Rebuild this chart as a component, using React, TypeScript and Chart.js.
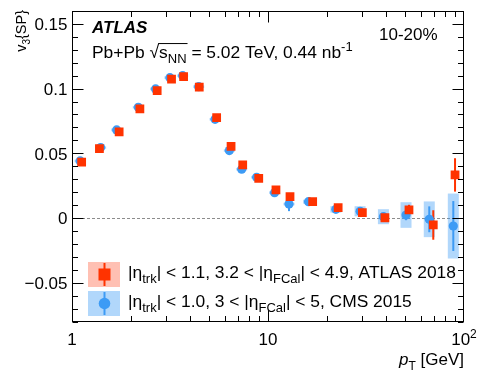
import React, { useEffect, useRef } from 'react';
import { Chart, registerables } from 'chart.js';

Chart.register(...registerables);

// ---- data ----
const atlasPt = [1.12, 1.38, 1.74, 2.22, 2.72, 3.22, 3.71, 4.46, 5.47, 6.48, 7.43, 8.97, 10.98, 12.95, 16.9, 22.8, 30.3, 39.5, 52.4, 69.7, 90.0];
const atlasV3 = [0.0431, 0.0536, 0.0665, 0.0843, 0.0984, 0.1073, 0.1093, 0.1011, 0.0776, 0.0554, 0.041, 0.0307, 0.0217, 0.0165, 0.0126, 0.0081, 0.0041, 0.0002, 0.0062, -0.0054, 0.0333];
const atlasStat = [0.0002, 0.0002, 0.0002, 0.0002, 0.0002, 0.0003, 0.0003, 0.0003, 0.0004, 0.0005, 0.0006, 0.0008, 0.001, 0.0012, 0.0015, 0.0018, 0.0022, 0.0028, 0.004, 0.0114, 0.0129];

const cmsPt = [1.1, 1.4, 1.69, 2.18, 2.67, 3.16, 3.67, 4.43, 5.37, 6.35, 7.34, 8.75, 10.8, 12.8, 16.1, 22.2, 29.5, 38.8, 50.6, 66.5, 88.2];
const cmsV3 = [0.0441, 0.0544, 0.0681, 0.0856, 0.0998, 0.1085, 0.11, 0.1015, 0.0763, 0.0521, 0.0377, 0.0315, 0.0196, 0.0108, 0.0126, 0.0067, 0.0052, 0.001, 0.0023, -0.001, -0.0062];
const cmsStat = [0.0003, 0.0003, 0.0003, 0.0003, 0.0003, 0.0003, 0.0003, 0.0004, 0.0005, 0.0006, 0.0008, 0.001, 0.0014, 0.0055, 0.0015, 0.002, 0.0025, 0.003, 0.004, 0.01, 0.0193];
const cmsSys = [0.001, 0.001, 0.001, 0.001, 0.001, 0.001, 0.001, 0.001, 0.001, 0.001, 0.001, 0.001, 0.001, 0.001, 0.0015, 0.0025, 0.0039, 0.0058, 0.0099, 0.0138, 0.0251];

const yMajorTicks = [-0.05, 0, 0.05, 0.1, 0.15];
const yTickLabels = ['\u22120.05', '0', '0.05', '0.1', '0.15'];
const xMajorTicks = [1, 10, 100];

const RED = '#ff3300';
const BLUE = '#3d9bf5';
const BLUE_BOX = 'rgba(61,155,245,0.40)';
const RED_BOX = 'rgba(255,60,20,0.32)';
const FONT = '"Liberation Sans", Arial, Helvetica, sans-serif';

type Seg = { t: string; sub?: boolean; sup?: boolean; italic?: boolean; bold?: boolean; overStart?: boolean; overEnd?: boolean };

function fontFor(s: Seg, size: number) {
  const sz = s.sub || s.sup ? Math.round(size * 0.72) : size;
  return `${s.italic ? 'italic ' : ''}${s.bold ? 'bold ' : ''}${sz}px ${FONT}`;
}

function drawRich(ctx: CanvasRenderingContext2D, segs: Seg[], x: number, y: number, size: number, align: 'left' | 'right' | 'center' = 'left') {
  let total = 0;
  const widths: number[] = [];
  for (const s of segs) {
    ctx.font = fontFor(s, size);
    const w = ctx.measureText(s.t).width;
    widths.push(w);
    total += w;
  }
  let cx = align === 'right' ? x - total : align === 'center' ? x - total / 2 : x;
  ctx.textAlign = 'left';
  ctx.textBaseline = 'alphabetic';
  let overX: number | null = null;
  segs.forEach((s, i) => {
    ctx.font = fontFor(s, size);
    const dy = s.sub ? size * 0.3 : s.sup ? -size * 0.42 : 0;
    if (s.overStart) overX = cx;
    ctx.fillText(s.t, cx, y + dy);
    cx += widths[i];
    if (s.overEnd && overX !== null) {
      ctx.save();
      ctx.lineWidth = 1;
      ctx.strokeStyle = '#000';
      ctx.beginPath();
      ctx.moveTo(overX - 1, y - size * 0.83);
      ctx.lineTo(cx + 1, y - size * 0.83);
      ctx.stroke();
      ctx.restore();
    }
  });
}

const rootPlugin = {
  id: 'rootStyle',
  beforeDatasetsDraw(chart: any) {
    const ctx: CanvasRenderingContext2D = chart.ctx;
    const xs = chart.scales.x;
    const ys = chart.scales.y;
    const area = chart.chartArea;
    ctx.save();
    // zero line
    const y0 = Math.round(ys.getPixelForValue(0)) + 0.5;
    ctx.strokeStyle = '#8c8c8c';
    ctx.lineWidth = 1;
    ctx.setLineDash([3, 2]);
    ctx.beginPath();
    ctx.moveTo(area.left, y0);
    ctx.lineTo(area.right, y0);
    ctx.stroke();
    ctx.setLineDash([]);
    // CMS systematic boxes
    ctx.fillStyle = BLUE_BOX;
    cmsPt.forEach((pt, i) => {
      const px = xs.getPixelForValue(pt);
      const top = ys.getPixelForValue(cmsV3[i] + cmsSys[i]);
      const bot = ys.getPixelForValue(cmsV3[i] - cmsSys[i]);
      ctx.fillRect(px - 5.5, top, 11, bot - top);
    });
    // error bars
    ctx.lineWidth = 2;
    ctx.strokeStyle = BLUE;
    cmsPt.forEach((pt, i) => {
      const px = xs.getPixelForValue(pt);
      ctx.beginPath();
      ctx.moveTo(px, ys.getPixelForValue(cmsV3[i] + cmsStat[i]));
      ctx.lineTo(px, ys.getPixelForValue(cmsV3[i] - cmsStat[i]));
      ctx.stroke();
    });
    ctx.strokeStyle = RED;
    atlasPt.forEach((pt, i) => {
      const px = xs.getPixelForValue(pt);
      ctx.beginPath();
      ctx.moveTo(px, ys.getPixelForValue(atlasV3[i] + atlasStat[i]));
      ctx.lineTo(px, ys.getPixelForValue(atlasV3[i] - atlasStat[i]));
      ctx.stroke();
    });
    ctx.restore();
  },
  afterDraw(chart: any) {
    const ctx: CanvasRenderingContext2D = chart.ctx;
    const xs = chart.scales.x;
    const ys = chart.scales.y;
    const a = chart.chartArea;
    ctx.save();
    ctx.strokeStyle = '#000';
    ctx.fillStyle = '#000';
    ctx.lineWidth = 1;
    const L = Math.round(a.left) + 0.5;
    const R = Math.round(a.right) - 0.5;
    const T = Math.round(a.top) + 0.5;
    const B = Math.round(a.bottom) - 0.5;
    ctx.strokeRect(L, T, R - L, B - T);
    // y ticks
    ctx.beginPath();
    for (let k = -8; k <= 16; k++) {
      const v = k / 100;
      const py = Math.round(ys.getPixelForValue(v)) + 0.5;
      const len = k % 5 === 0 ? 11 : 5.5;
      ctx.moveTo(L, py);
      ctx.lineTo(L + len, py);
      ctx.moveTo(R, py);
      ctx.lineTo(R - len, py);
    }
    // x ticks (log)
    for (const d of [1, 10]) {
      for (let k = 1; k <= 9; k++) {
        const v = k * d;
        const px = Math.round(xs.getPixelForValue(v)) + 0.5;
        const len = k === 1 ? 11 : 5.5;
        ctx.moveTo(px, B);
        ctx.lineTo(px, B - len);
        ctx.moveTo(px, T);
        ctx.lineTo(px, T + len);
      }
    }
    ctx.stroke();

    // y tick labels
    ctx.font = `17px ${FONT}`;
    ctx.textAlign = 'right';
    ctx.textBaseline = 'alphabetic';
    yMajorTicks.forEach((v, i) => {
      ctx.fillText(yTickLabels[i], a.left - 4.5, ys.getPixelForValue(v) + 6.2);
    });
    // x tick labels
    const xLab: Seg[][] = [[{ t: '1' }], [{ t: '10' }], [{ t: '10' }, { t: '2', sup: true }]];
    xMajorTicks.forEach((v, i) => {
      drawRich(ctx, xLab[i], xs.getPixelForValue(v), 345, 17, 'center');
    });
    // axis titles
    drawRich(ctx, [{ t: 'p', italic: true }, { t: 'T', sub: true }, { t: ' [GeV]' }], a.right, 365, 17, 'right');
    ctx.save();
    ctx.translate(25.5, a.top - 1);
    ctx.rotate(-Math.PI / 2);
    drawRich(ctx, [{ t: 'v' }, { t: '3', sub: true }, { t: '{SP}' }], 0, 0, 14.5, 'right');
    ctx.restore();

    // labels
    drawRich(ctx, [{ t: 'ATLAS', bold: true, italic: true }], 92, 33, 17);
    drawRich(
      ctx,
      [
        { t: 'Pb+Pb ' },
        { t: '\u221A' },
        { t: 's', overStart: true },
        { t: 'NN', sub: true, overEnd: true },
        { t: ' = 5.02 TeV, 0.44 nb' },
        { t: '-1', sup: true },
      ],
      92,
      58,
      17.4
    );
    drawRich(ctx, [{ t: '10-20%' }], 379, 40, 17);

    // legend
    ctx.fillStyle = RED_BOX;
    ctx.fillRect(88, 262, 32, 25);
    ctx.strokeStyle = RED;
    ctx.lineWidth = 2;
    ctx.beginPath();
    ctx.moveTo(104.5, 263);
    ctx.lineTo(104.5, 286);
    ctx.stroke();
    ctx.fillStyle = RED;
    ctx.fillRect(98.5, 268.5, 12, 12);

    ctx.fillStyle = BLUE_BOX;
    ctx.fillRect(88, 291, 32, 25);
    ctx.strokeStyle = BLUE;
    ctx.beginPath();
    ctx.moveTo(104.5, 292);
    ctx.lineTo(104.5, 315);
    ctx.stroke();
    ctx.fillStyle = BLUE;
    ctx.beginPath();
    ctx.arc(104.5, 303.5, 5.8, 0, Math.PI * 2);
    ctx.fill();

    ctx.fillStyle = '#000';
    drawRich(
      ctx,
      [
        { t: '|\u03B7' },
        { t: 'trk', sub: true },
        { t: '| < 1.1, 3.2 < |\u03B7' },
        { t: 'FCal', sub: true },
        { t: '| < 4.9, ATLAS 2018' },
      ],
      128,
      277.5,
      17.4
    );
    drawRich(
      ctx,
      [
        { t: '|\u03B7' },
        { t: 'trk', sub: true },
        { t: '| < 1.0, 3 < |\u03B7' },
        { t: 'FCal', sub: true },
        { t: '| < 5, CMS 2015' },
      ],
      128,
      306.5,
      17.4
    );
    ctx.restore();
  },
};

export default function App() {
  const ref = useRef<HTMLCanvasElement | null>(null);
  useEffect(() => {
    if (!ref.current) return;
    const chart = new Chart(ref.current, {
      type: 'scatter',
      data: {
        datasets: [
          {
            label: 'ATLAS 2018',
            data: atlasPt.map((x, i) => ({ x, y: atlasV3[i] })),
            pointStyle: 'rect',
            pointRadius: 6.2,
            pointBackgroundColor: RED,
            pointBorderWidth: 0,
            borderWidth: 0,
          },
          {
            label: 'CMS 2015',
            data: cmsPt.map((x, i) => ({ x, y: cmsV3[i] })),
            pointStyle: 'circle',
            pointRadius: 4.6,
            pointBackgroundColor: BLUE,
            pointBorderWidth: 0,
            borderWidth: 0,
          },
        ],
      },
      options: {
        animation: false,
        responsive: false,
        devicePixelRatio: 1,
        layout: { padding: { left: 72, right: 14, top: 11, bottom: 57.5 } },
        scales: {
          x: { type: 'logarithmic', min: 1, max: 100, display: false },
          y: { type: 'linear', min: -0.08, max: 0.16, display: false },
        },
        plugins: { legend: { display: false }, tooltip: { enabled: false } },
        events: [],
      },
      plugins: [rootPlugin],
    });
    return () => chart.destroy();
  }, []);
  return (
    <div style={{ position: 'fixed', left: 0, top: 0, width: 478, height: 379, background: '#fff' }}>
      <canvas ref={ref} width={478} height={379} />
    </div>
  );
}
